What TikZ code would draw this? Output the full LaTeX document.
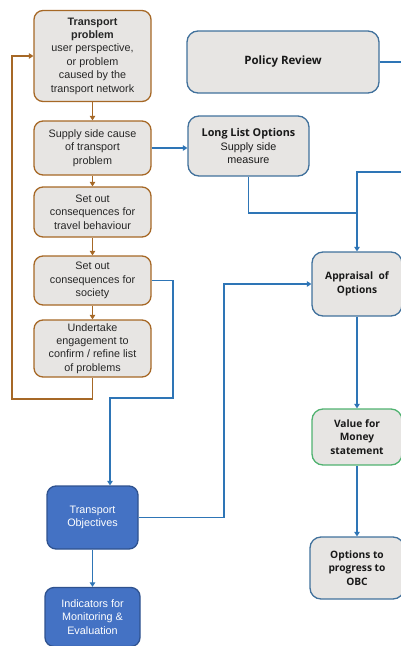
\documentclass[tikz,border=0pt]{standalone}
\usepackage{fontspec}
\setmainfont{Liberation Sans}
\newfontfamily\rfont{Open Sans}
\usetikzlibrary{arrows.meta}
\definecolor{brn}{RGB}{166,104,38}
\definecolor{lnblue}{RGB}{46,117,182}
\definecolor{bxblue}{RGB}{65,113,156}
\definecolor{boxgray}{RGB}{231,229,227}
\definecolor{objfill}{RGB}{68,114,196}
\definecolor{objline}{RGB}{47,82,143}
\definecolor{vfmgreen}{RGB}{80,178,112}
\begin{document}
\begin{tikzpicture}[x=1pt, y=-1pt,
    font=\fontsize{10.8}{13.4}\selectfont,
    lbox/.style ={draw=brn, line width=1.3pt, fill=boxgray, rounded corners=9pt, align=center, text=black!85, minimum width=117pt, inner sep=1pt},
    rbox/.style ={draw=bxblue, line width=1.3pt, fill=boxgray, rounded corners=11pt, align=center, text=black!90, font=\rfont\bfseries\fontsize{10.2}{13.5}\selectfont, inner sep=1pt},
    obox/.style ={draw=objline, line width=1.3pt, fill=objfill, rounded corners=9pt, align=center, text=white, inner sep=1pt},
    barr/.style ={draw=brn, line width=1.3pt, -{Triangle[width=5.5pt,length=4.5pt]}},
    larr/.style ={draw=lnblue, line width=1.3pt, -{Triangle[width=5.5pt,length=4.5pt]}},
    lline/.style={draw=lnblue, line width=1.3pt},
  ]
  \useasboundingbox (0,0) rectangle (401,646);
  % problem column
  \node[lbox, minimum height=91pt] (tp) at (92.5,56) {\textbf{Transport}\\\textbf{problem}\\user perspective,\\or problem\\caused by the\\transport network};
  \node[lbox, minimum height=54pt] (ss) at (92.5,148) {Supply side cause\\of transport\\problem};
  \node[lbox, minimum height=50pt] (tb) at (92.5,212) {Set out\\consequences for\\travel behaviour};
  \node[lbox, minimum height=49pt] (so) at (92.5,280.5) {Set out\\consequences for\\society};
  \node[lbox, minimum height=57pt] (ue) at (92.5,348.5) {Undertake\\engagement to\\confirm / refine list\\of problems};
  % objectives
  \node[obox, minimum width=91pt, minimum height=63pt] (to) at (92.5,517.5) {Transport\\Objectives};
  \node[obox, minimum width=95pt, minimum height=59pt] (im) at (92.5,617) {Indicators for\\Monitoring \&\\Evaluation};
  % options column
  \node[rbox, minimum width=192pt, minimum height=62pt, font=\rfont\bfseries\fontsize{11.5}{13.5}\selectfont] (pr) at (283,62) {Policy Review};
  \node[rbox, minimum width=121pt, minimum height=60pt, font=\fontsize{10.8}{13.4}\selectfont] (ll) at (248.5,146) {{\rfont\bfseries Long List Options}\\Supply side\\measure};
  \node[rbox, minimum width=90pt, minimum height=64pt] (ap) at (357,284) {Appraisal\ \ of\\Options};
  \node[rbox, draw=vfmgreen, minimum width=90pt, minimum height=56pt] (vm) at (357,437) {Value for\\Money\\statement};
  \node[rbox, minimum width=94pt, minimum height=62pt] (ob) at (357,568) {Options to\\progress to\\OBC};
  % bends
  \coordinate (lp) at (12,399);
  \coordinate (rc) at (410,172);
  \coordinate (mj) at (357,213);
  \coordinate (sd) at (173,398);
  \coordinate (ak) at (224,517.5);
  % brown links
  \draw[barr] (tp) -- (ss);
  \draw[barr] (ss) -- (tb);
  \draw[barr] (tb) -- (so);
  \draw[barr] (so) -- (ue);
  \draw[barr] (ue.south) |- (lp) |- (tp.west);
  % blue links
  \draw[larr] (ss.east) -- (ss.east -| ll.west);
  \draw[larr] (pr.east) -| (rc) -| (ap.north);
  \draw[lline] (ll.south) |- (mj);
  \draw[larr] (so.east) -| (sd) -| ([xshift=17.5pt]to.north);
  \draw[larr] (to.east) -- (ak) |- (ap.west);
  \draw[larr] (to) -- (im);
  \draw[larr] (ap) -- (vm);
  \draw[larr] (vm) -- (ob);
\end{tikzpicture}
\end{document}
